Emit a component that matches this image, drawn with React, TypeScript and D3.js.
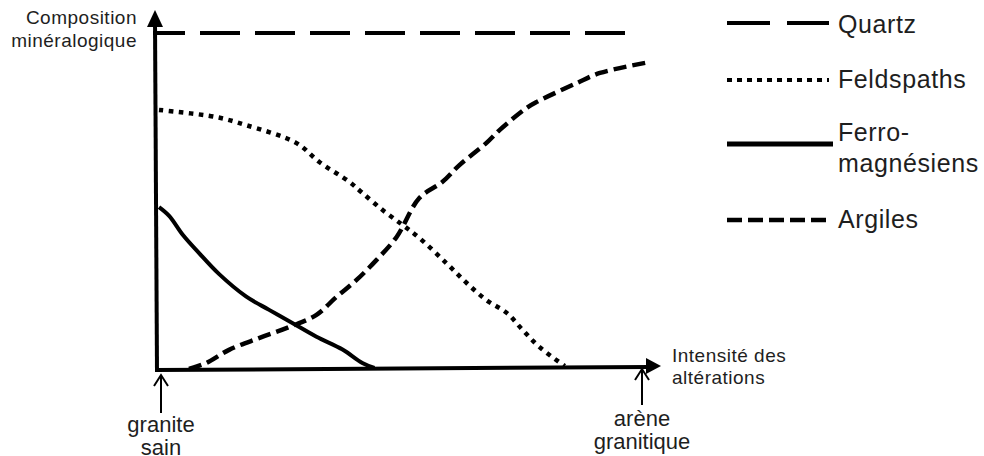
import React from 'react';
import * as d3 from 'd3';

// Series values (x: intensité des altérations 0-100, y: composition 0-100)
const quartzX = [0, 98.5];
const quartzY = [100, 100];
const feldspathsX = [0, 11.8, 18.0, 28.4, 33.2, 39.4, 42.1, 46.3, 50.4, 53.9, 59.5, 63.7, 67.8, 72.0, 75.3, 78.8, 84.0];
const feldspathsY = [77.1, 75.0, 72.6, 67.3, 61.6, 55.7, 52.4, 47.3, 42.9, 39.0, 31.5, 25.6, 20.5, 16.7, 11.6, 6.5, 0.9];
const ferroX = [0, 2.1, 5.0, 8.3, 12.4, 18.0, 22.8, 27.6, 32.6, 38.0, 42.1, 44.6];
const ferroY = [48.2, 45.6, 39.8, 34.5, 28.3, 21.6, 17.6, 13.7, 9.6, 5.8, 1.8, 0.3];
const argilesX = [6.2, 9.8, 14.5, 20.7, 27.0, 32.6, 36.7, 40.9, 45.0, 49.2, 53.9, 58.7, 62.2, 67.8, 70.5, 76.1, 78.2, 86.5, 91.3, 101.7];
const argilesY = [0, 1.8, 5.7, 9.2, 12.5, 16.1, 21.4, 26.5, 32.4, 39.3, 50.9, 55.7, 60.7, 67.3, 71.1, 77.7, 79.5, 85.1, 88.1, 91.4];

const legendLabels = [['Quartz'], ['Feldspaths'], ['Ferro-', 'magnésiens'], ['Argiles']];
const yAxisLabel = ['Composition', 'minéralogique'];
const xAxisLabel = ['Intensité des', 'altérations'];
const startLabel = ['granite', 'sain'];
const endLabel = ['arène', 'granitique'];
const markerPositions = [0, 100];

const FONT = 'Arial, "Liberation Sans", sans-serif';
const TEXT = '#1e1e1e';

export default function App() {
  const x = d3.scaleLinear().domain([0, 100]).range([159, 642]);
  const y = d3.scaleLinear().domain([0, 100]).range([369, 33]);

  const line = d3
    .line<[number, number]>()
    .x((d) => x(d[0]))
    .y((d) => y(d[1]))
    .curve(d3.curveCatmullRom.alpha(0.5));

  const zip = (xs: number[], ys: number[]) => xs.map((v, i) => [v, ys[i]] as [number, number]);

  const series = [
    { pts: zip(quartzX, quartzY), dash: '40 15', width: 4, offset: 8, curve: false },
    { pts: zip(feldspathsX, feldspathsY), dash: '4.5 5.5', width: 4.5, offset: 0, curve: true },
    { pts: zip(ferroX, ferroY), dash: undefined, width: 4, offset: 0, curve: true },
    { pts: zip(argilesX, argilesY), dash: '13 6', width: 4.5, offset: 0, curve: true },
  ];

  const legendDash = ['43 17', '5 5', undefined, '15 6'];
  const legendWidth = [4, 4, 5, 4.5];
  const legendLineY = [23, 80, 144, 220];
  const legendTextY = [33, 88, 141, 228];

  const x0 = x(0);
  const yBase = y(0);

  return (
    <svg
      width={984}
      height={456}
      style={{ position: 'absolute', left: 0, top: 0, background: '#fff' }}
      fontFamily={FONT}
    >
      <rect x={0} y={0} width={984} height={456} fill="#fff" />

      {/* series lines */}
      {series.map((s, i) => (
        <path
          key={i}
          d={s.curve ? (line(s.pts) as string) : `M${x(s.pts[0][0]) - 6},${y(s.pts[0][1])}L${x(s.pts[1][0])},${y(s.pts[1][1])}`}
          fill="none"
          stroke="#000"
          strokeWidth={s.width}
          strokeDasharray={s.dash}
          strokeDashoffset={s.offset}
        />
      ))}

      {/* axes */}
      <line x1={x0 - 2} y1={yBase + 3} x2={x0 - 4} y2={22} stroke="#000" strokeWidth={4} />
      <path d={`M${x0 - 4},10 L${x0 - 12},27 L${x0 + 4},27 Z`} fill="#000" />
      <line x1={x0 - 4} y1={yBase + 1} x2={650} y2={yBase - 2} stroke="#000" strokeWidth={4} />
      <path d={`M661,${yBase - 3} L646,${yBase - 11} L646,${yBase + 5} Z`} fill="#000" />

      {/* y axis label */}
      {yAxisLabel.map((t, i) => (
        <text key={t} x={137} y={24 + i * 23} textAnchor="end" fontSize={19} letterSpacing={0.5} fill={TEXT}>
          {t}
        </text>
      ))}

      {/* x axis label */}
      {xAxisLabel.map((t, i) => (
        <text key={t} x={672} y={362 + i * 22} fontSize={19} letterSpacing={0.5} fill={TEXT}>
          {t}
        </text>
      ))}

      {/* markers below axis */}
      {markerPositions.map((m, k) => {
        const px = x(m) + (k === 0 ? 2 : 0);
        const top = k === 0 ? 375 : 369;
        const bottom = k === 0 ? 413 : 405;
        const labels = k === 0 ? startLabel : endLabel;
        const ty = k === 0 ? 432 : 426;
        return (
          <g key={k}>
            <line x1={px} y1={top} x2={px} y2={bottom} stroke="#000" strokeWidth={2} />
            <path
              d={`M${px - 7},${top + 11} L${px},${top} L${px + 7},${top + 11}`}
              fill="none"
              stroke="#000"
              strokeWidth={2}
            />
            {labels.map((t, i) => (
              <text key={t} x={px} y={ty + i * 23} textAnchor="middle" fontSize={22} fill={TEXT}>
                {t}
              </text>
            ))}
          </g>
        );
      })}

      {/* legend */}
      {legendLabels.map((lab, i) => (
        <g key={i}>
          <line
            x1={727}
            x2={i === 2 ? 833 : 829}
            y1={legendLineY[i]}
            y2={legendLineY[i]}
            stroke="#000"
            strokeWidth={legendWidth[i]}
            strokeDasharray={legendDash[i]}
          />
          {lab.map((t, j) => (
            <text key={t} x={838} y={legendTextY[i] + j * 31} fontSize={25} letterSpacing={0.6} fill={TEXT}>
              {t}
            </text>
          ))}
        </g>
      ))}
    </svg>
  );
}
